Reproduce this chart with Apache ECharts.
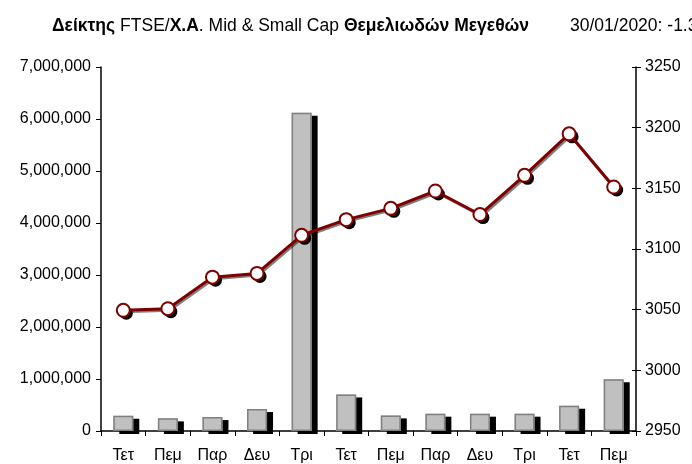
<!DOCTYPE html>
<html>
<head>
<meta charset="utf-8">
<script src="https://cdn.jsdelivr.net/npm/echarts@6/dist/echarts.min.js"></script>
<style>
html,body{margin:0;padding:0;background:#fff;}
#chart{width:692px;height:464px;}
</style>
</head>
<body>
<div id="chart"></div>
<script>
var categories = ['Τετ','Πεμ','Παρ','Δευ','Τρι','Τετ','Πεμ','Παρ','Δευ','Τρι','Τετ','Πεμ'];
var volumeValues = [293000, 243000, 268000, 422000, 6120000, 703000, 300000, 333000, 333000, 333000, 486000, 997000];
var indexValues = [3049.5, 3050.8, 3076.8, 3079.9, 3111.3, 3124.2, 3133.5, 3147.8, 3128.4, 3160.7, 3194.9, 3151.1];
var leftTicks = {min: 0, max: 7000000, interval: 1000000};
var rightTicks = {min: 2950, max: 3250, interval: 50};

var FONT = '"Liberation Sans", Arial, sans-serif';
var chart = echarts.init(document.getElementById('chart'), null, {renderer: 'canvas'});
chart.setOption({
  animation: false,
  backgroundColor: '#fff',
  title: [
    {
      left: 47, top: 12,
      text: '{b|Δείκτης} {n|FTSE/}{b|Χ.Α}{n|. Mid & Small Cap} {b|Θεμελιωδών Μεγεθών}',
      textStyle: {
        rich: {
          b: {fontFamily: FONT, fontWeight: 'bold', fontSize: 17.5, color: '#000'},
          n: {fontFamily: FONT, fontWeight: 'normal', fontSize: 17.5, color: '#000'}
        }
      }
    },
    {
      left: 565, top: 12,
      text: '30/01/2020: -1.33%',
      textStyle: {fontFamily: FONT, fontWeight: 'normal', fontSize: 17.5, color: '#000'}
    }
  ],
  grid: {left: 101, right: 56, top: 67, bottom: 32, containLabel: false},
  xAxis: {
    type: 'category',
    data: categories,
    boundaryGap: true,
    axisLine: {lineStyle: {color: '#000', width: 1.5}},
    axisTick: {show: true, alignWithLabel: false, length: 5, lineStyle: {color: '#000', width: 1}},
    axisLabel: {color: '#000', fontFamily: FONT, fontSize: 16, margin: 17},
    splitLine: {show: false}
  },
  yAxis: [
    {
      type: 'value', position: 'left',
      min: leftTicks.min, max: leftTicks.max, interval: leftTicks.interval,
      axisLine: {show: true, lineStyle: {color: '#000', width: 1.5}},
      axisTick: {show: true, length: 5, lineStyle: {color: '#000'}},
      axisLabel: {color: '#000', fontFamily: FONT, fontSize: 16, margin: 10,
        formatter: function (v) { return v.toLocaleString('en-US'); }},
      splitLine: {show: false}
    },
    {
      type: 'value', position: 'right',
      min: rightTicks.min, max: rightTicks.max, interval: rightTicks.interval,
      axisLine: {show: true, lineStyle: {color: '#000', width: 1.5}},
      axisTick: {show: true, length: 5, lineStyle: {color: '#000'}},
      axisLabel: {color: '#000', fontFamily: FONT, fontSize: 16, margin: 9,
        formatter: function (v) { return String(v); }},
      splitLine: {show: false}
    },
    {
      type: 'value', position: 'right',
      min: rightTicks.min, max: rightTicks.max, interval: rightTicks.interval,
      axisLine: {show: false},
      axisTick: {show: true, inside: true, length: 4, lineStyle: {color: '#000'}},
      axisLabel: {show: false},
      splitLine: {show: false}
    }
  ],
  series: [
    {
      type: 'bar',
      yAxisIndex: 0,
      data: volumeValues,
      barWidth: 20,
      itemStyle: {
        color: '#c0c0c0',
        borderWidth: 0,
        shadowColor: '#000',
        shadowBlur: 0,
        shadowOffsetX: 6,
        shadowOffsetY: 3
      },
      z: 2
    },
    {
      type: 'bar',
      yAxisIndex: 0,
      data: volumeValues,
      barWidth: 20,
      barGap: '-100%',
      itemStyle: {
        color: 'rgba(0,0,0,0)',
        borderColor: '#808080',
        borderWidth: 1.5
      },
      z: 3
    },
    {
      type: 'line',
      yAxisIndex: 1,
      data: indexValues,
      symbol: 'circle',
      symbolSize: 13,
      symbolOffset: [3, 3],
      lineStyle: {opacity: 0},
      itemStyle: {color: '#000'},
      z: 4
    },
    {
      type: 'line',
      yAxisIndex: 1,
      data: indexValues,
      symbol: 'circle',
      symbolSize: 13,
      lineStyle: {color: '#800000', width: 3, shadowColor: 'rgba(0,0,0,0.5)', shadowBlur: 0, shadowOffsetX: 1.5, shadowOffsetY: 1.5},
      itemStyle: {color: '#fff', borderColor: '#800000', borderWidth: 2},
      z: 5
    }
  ]
});
</script>
</body>
</html>
